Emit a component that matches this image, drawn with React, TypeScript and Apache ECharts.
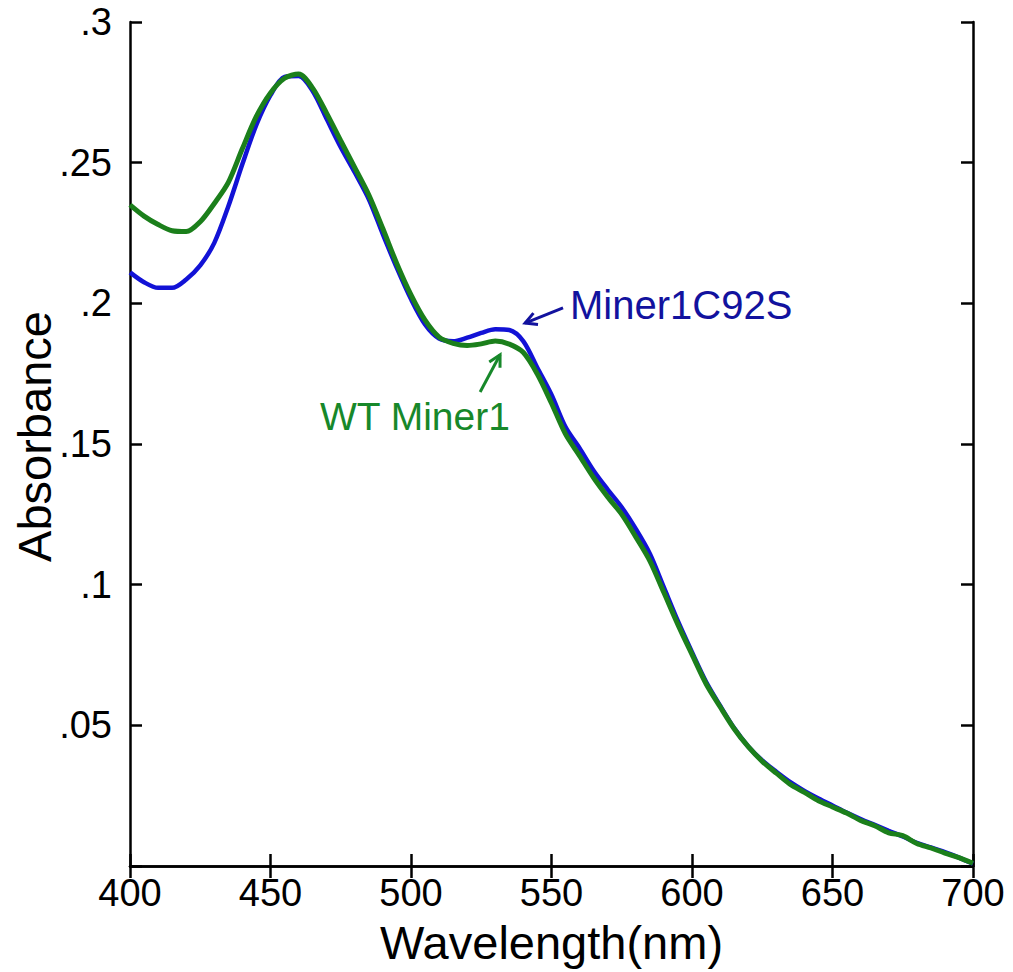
import React, { useEffect, useRef } from "react";
import * as echarts from "echarts";

const wavelengths = [
  400, 405, 410, 415, 420, 425, 430, 435, 440, 445, 450, 455, 460, 465, 470, 475,
  480, 485, 490, 495, 500, 505, 510, 515, 520, 525, 530, 535, 540, 545, 550, 555,
  560, 565, 570, 575, 580, 585, 590, 595, 600, 605, 610, 615, 620, 625, 630, 635,
  640, 645, 650, 655, 660, 665, 670, 675, 680, 685, 690, 695, 700,
];

const c92sAbs = [
  0.211, 0.2075, 0.2055, 0.2055, 0.2085, 0.2135, 0.2215, 0.2345, 0.2495, 0.2635,
  0.274, 0.2805, 0.2808, 0.2755, 0.2655, 0.2555, 0.2465, 0.237, 0.2245, 0.2125,
  0.2015, 0.1925, 0.1875, 0.1865, 0.1878, 0.1895, 0.1908, 0.1905, 0.1865, 0.177,
  0.1675, 0.156, 0.1485, 0.1405, 0.1338, 0.1275, 0.1198, 0.111, 0.099, 0.087,
  0.076, 0.0655, 0.057, 0.049, 0.0425, 0.0375, 0.0335, 0.0298, 0.0267, 0.024,
  0.0215, 0.019, 0.0167, 0.0146, 0.0125, 0.0105, 0.0082, 0.0066, 0.0049, 0.003,
  0.0008,
];

const wtAbs = [
  0.235, 0.231, 0.228, 0.2258, 0.2255, 0.229, 0.2355, 0.243, 0.255, 0.2665,
  0.2748, 0.28, 0.2815, 0.2765, 0.2675, 0.2578, 0.2482, 0.2385, 0.2265, 0.214,
  0.203, 0.194, 0.188, 0.1858, 0.185, 0.1856, 0.1866, 0.1855, 0.1825, 0.1748,
  0.1645, 0.1535, 0.1458, 0.138, 0.1312, 0.125, 0.117, 0.1085, 0.0972, 0.0858,
  0.0752, 0.0648, 0.0566, 0.0488, 0.0424, 0.0372, 0.033, 0.029, 0.0262, 0.0232,
  0.021, 0.0188, 0.0162, 0.0143, 0.0118, 0.0108, 0.008, 0.0064, 0.0046, 0.003,
  0.001,
];

const xTicks = { min: 400, max: 700, interval: 50 };
const yTicks = { min: 0, max: 0.3, interval: 0.05 };

const FONT = "'Liberation Sans', Arial, Helvetica, sans-serif";
const BLUE = "#1212d6";
const BLUE_TEXT = "#12129e";
const GREEN = "#1b7f1b";
const GREEN_TEXT = "#17882a";

export default function App() {
  const ref = useRef<HTMLDivElement>(null);

  useEffect(() => {
    if (!ref.current) return;
    const chart = echarts.init(ref.current, null, { renderer: "svg" });
    const axisLine = { show: true, lineStyle: { color: "#000", width: 2.5 } };
    const tick = { show: true, inside: true, length: 12, lineStyle: { color: "#000", width: 2.5 } };
    chart.setOption({
      animation: false,
      backgroundColor: "#fff",
      grid: {
        left: 130,
        top: 22,
        right: 40,
        bottom: 106,
        containLabel: false,
        outerBoundsMode: "none",
      },
      xAxis: [
        {
          type: "value",
          ...xTicks,
          name: "Wavelength(nm)",
          nameLocation: "middle",
          nameGap: 53,
          nameMoveOverlap: false,
          nameTextStyle: { fontFamily: FONT, fontSize: 47, color: "#000" },
          axisLine,
          axisTick: tick,
          splitLine: { show: false },
          axisLabel: { fontFamily: FONT, fontSize: 38, color: "#000", margin: 8 },
        },
        {
          type: "value",
          position: "top",
          ...xTicks,
          axisLine,
          axisTick: tick,
          splitLine: { show: false },
          axisLabel: { show: false },
        },
      ],
      yAxis: [
        {
          type: "value",
          ...yTicks,
          name: "Absorbance",
          nameLocation: "middle",
          nameGap: 72,
          nameMoveOverlap: false,
          nameTextStyle: { fontFamily: FONT, fontSize: 47, color: "#000", padding: [0, 0, 0, 15] },
          axisLine,
          axisTick: tick,
          splitLine: { show: false },
          axisLabel: {
            fontFamily: FONT,
            fontSize: 38,
            color: "#000",
            margin: 18,
            formatter: (v: number) => (v === 0 ? "" : String(parseFloat(v.toFixed(2))).replace(/^0/, "")),
          },
        },
        {
          type: "value",
          position: "right",
          ...yTicks,
          axisLine,
          axisTick: tick,
          splitLine: { show: false },
          axisLabel: { show: false },
        },
      ],
      series: [
        {
          name: "Miner1C92S",
          type: "line",
          data: wavelengths.map((w, i) => [w, c92sAbs[i]]),
          showSymbol: false,
          smooth: 0.3,
          lineStyle: { color: BLUE, width: 4.5 },
          itemStyle: { color: BLUE },
          z: 2,
        },
        {
          name: "WT Miner1",
          type: "line",
          data: wavelengths.map((w, i) => [w, wtAbs[i]]),
          showSymbol: false,
          smooth: 0.3,
          lineStyle: { color: GREEN, width: 5 },
          itemStyle: { color: GREEN },
          z: 3,
        },
      ],
    });

    const px = (x: number, y: number) =>
      chart.convertToPixel({ xAxisIndex: 0, yAxisIndex: 0 }, [x, y]) as number[];

    const arrow = (tail: number[], tip: number[], color: string) => {
      const a = px(tail[0], tail[1]);
      const b = px(tip[0], tip[1]);
      const dx = b[0] - a[0];
      const dy = b[1] - a[1];
      const len = Math.hypot(dx, dy);
      const ux = dx / len;
      const uy = dy / len;
      const L = 13;
      const ang = (28 * Math.PI) / 180;
      const rot = (s: number) => [
        b[0] - L * (ux * Math.cos(s * ang) - uy * Math.sin(s * ang)),
        b[1] - L * (ux * Math.sin(s * ang) + uy * Math.cos(s * ang)),
      ];
      return [
        {
          type: "line",
          shape: { x1: a[0], y1: a[1], x2: b[0], y2: b[1] },
          style: { stroke: color, lineWidth: 3 },
          z: 10,
        },
        {
          type: "polyline",
          shape: { points: [rot(1), b, rot(-1)] },
          style: { stroke: color, lineWidth: 3, fill: null },
          z: 10,
        },
      ];
    };

    const blueLabel = px(556.6, 0.1994);
    const greenLabel = px(467.6, 0.1596);

    chart.setOption({
      graphic: [
        ...arrow([554.1, 0.1984], [540.6, 0.193], BLUE_TEXT),
        ...arrow([524.6, 0.1685], [531.7, 0.1817], GREEN_TEXT),
        {
          type: "text",
          x: blueLabel[0],
          y: blueLabel[1],
          z: 10,
          style: {
            text: "Miner1C92S",
            fill: BLUE_TEXT,
            font: `40px ${FONT}`,
            verticalAlign: "middle",
            align: "left",
          },
        },
        {
          type: "text",
          x: greenLabel[0],
          y: greenLabel[1],
          z: 10,
          style: {
            text: "WT Miner1",
            fill: GREEN_TEXT,
            font: `39px ${FONT}`,
            verticalAlign: "middle",
            align: "left",
          },
        },
      ],
    });

    return () => chart.dispose();
  }, []);

  return (
    <div
      ref={ref}
      style={{ position: "fixed", left: 0, top: 0, width: 1013, height: 972, background: "#fff" }}
    />
  );
}
